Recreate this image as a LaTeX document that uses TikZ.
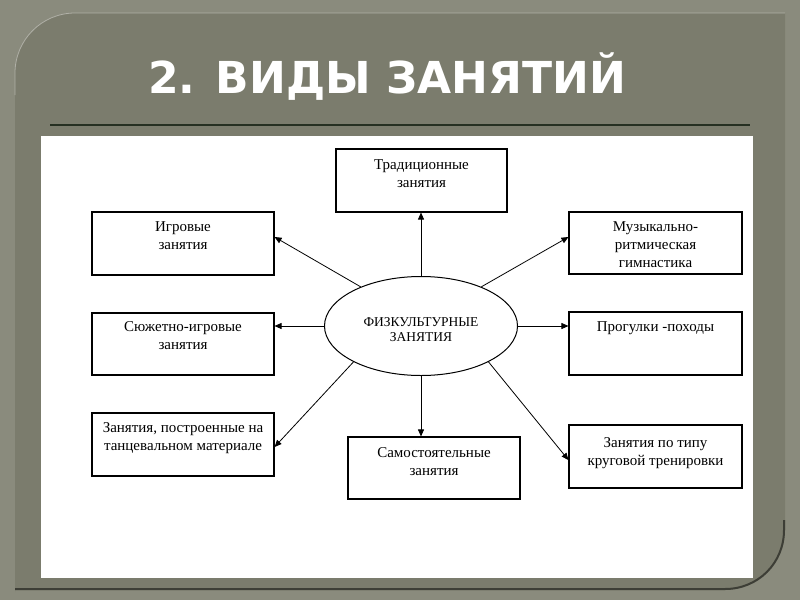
\documentclass[tikz,border=0pt]{standalone}
\usepackage{fontspec}
\setmainfont{Liberation Serif}
\newfontfamily\titlefont{DejaVu Sans}
\usetikzlibrary{arrows.meta,shapes.geometric,calc}
\definecolor{texbg}{HTML}{8A8B7D}
\definecolor{panelc}{HTML}{7B7C6D}
\definecolor{rulec}{HTML}{263022}
\newcommand\boxtxt[4]{\parbox[t][#2pt][t]{#1pt}{\centering\fontsize{15}{18}\selectfont\rule{0pt}{#3pt}#4}}
\begin{document}
\begin{tikzpicture}[x=1pt,y=-1pt,
  box/.style={draw=black,line width=1.1pt,fill=white,inner sep=0pt},
  arr/.style={draw=black,line width=0.8pt,-{Triangle[length=7pt,width=6pt]}}]
\useasboundingbox (0,0) rectangle (800,600);
% background
\fill[texbg] (0,0) rectangle (800,600);
\fill[panelc] (15,592) -- (15,73) .. controls (15,39.9) and (41.9,13) .. (75,13)
  -- (785,13) -- (785,530) .. controls (785,563.1) and (758.1,590) .. (725,590) -- (15,590) -- cycle;
\draw[color=white!40!panelc,line width=0.8pt] (15,95) -- (15,73) .. controls (15,39.9) and (41.9,13) .. (75,13) -- (785,13);
\draw[color=black!50!panelc,line width=2pt] (15,589) -- (725,589) .. controls (758.1,589) and (784,563.1) .. (784,530) -- (784,520);
% title
\node[anchor=base,text=white,inner sep=0pt] (title) at (387,93)
  {\titlefont\bfseries\fontsize{44}{44}\selectfont 2. ВИДЫ ЗАНЯТИЙ};
\draw[rulec,line width=1.3pt] (50,125) -- (750,125);
% white area
\fill[white] (41,136) rectangle (753,578);
% center
\node[draw=black,line width=1pt,ellipse,minimum width=193pt,minimum height=99pt,inner sep=0pt] (ell) at (421,326)
  {\parbox{120pt}{\vspace*{8pt}\centering\fontsize{13.5}{15}\selectfont ФИЗКУЛЬТУРНЫЕ\\ЗАНЯТИЯ}};
% boxes
\node[box] (trad) at (421.5,180.5) {\boxtxt{171}{63}{20}{Традиционные\\занятия}};
\node[box] (igr) at (183,243.5) {\boxtxt{182}{63}{19}{Игровые\\занятия}};
\node[box] (sjuz) at (183,344) {\boxtxt{182}{62}{18}{Сюжетно-игровые\\занятия}};
\node[box] (muz) at (655.5,243) {\boxtxt{173}{62}{19}{Музыкально-\\ритмическая\\гимнастика}};
\node[box] (prog) at (655.5,343.5) {\boxtxt{173}{63}{19}{Прогулки -походы}};
\node[box] (tanc) at (183,444.5) {\boxtxt{182}{63}{19}{Занятия, построенные на\\танцевальном материале}};
\node[box] (sam) at (434,468) {\boxtxt{172}{62}{20}{Самостоятельные\\занятия}};
\node[box] (krug) at (655.5,456.5) {\boxtxt{173}{63}{22}{Занятия по типу\\круговой тренировки}};
% arrows
\draw[arr] (ell.north) -- (ell.north |- trad.south);
\draw[arr] (ell.147) -- ([yshift=6.5pt]igr.east);
\draw[arr] (ell.33) -- ([yshift=6pt]muz.west);
\draw[arr] (ell.west) -- (ell.west -| sjuz.east);
\draw[arr] (ell.east) -- (ell.east -| prog.west);
\draw[arr] (ell.208) -- ([yshift=-2.5pt]tanc.east);
\draw[arr] (ell.south) -- (ell.south |- sam.north);
\draw[arr] (ell.332) -- ([yshift=-3.5pt]krug.west);
\end{tikzpicture}
\end{document}
